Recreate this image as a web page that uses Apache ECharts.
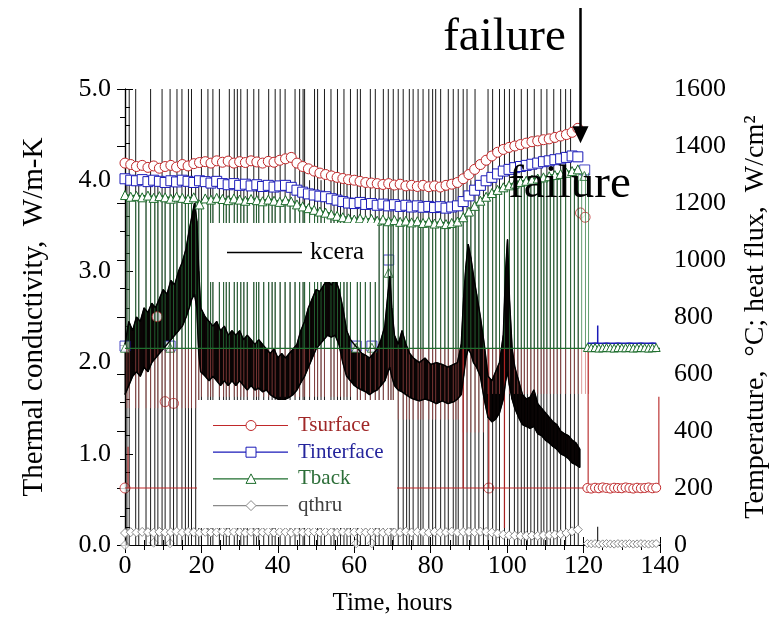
<!DOCTYPE html>
<html><head><meta charset="utf-8">
<script src="https://cdn.jsdelivr.net/npm/echarts@6/dist/echarts.min.js"></script>
<style>html,body{margin:0;padding:0;background:#fff}#c{width:778px;height:621px}</style>
</head><body><div id="c"></div>
<script>
const FONT = 'Liberation Serif';
const timeMin = 0, timeMax = 140, timeStep = 20;
const kMin = 0, kMax = 5, kStep = 1;
const tMin = 0, tMax = 1600, tStep = 200;

const kceraHours = [0,1,2,3,4,5,6,7,8,9,
10,11,12,13,14,15,16,16.8,17.5,18.2,
18.8,19.3,19.8,21,22,23,24,25,26,27,
28,29,30,31,32,33,34,35,36,37,
38,39,40,41,42,43,44,45,46,47,
48,49,50,51,52,53,54,55,56,57,
58,59,60,61,62,63,64,65,66,67,
68,68.8,69.3,69.8,70.5,71.5,72.5,73.5,74.5,75.5,
77,78.5,80,81.5,83,84.5,86,87,88,88.6,
89.2,89.8,90.5,91.2,92,93,94,95,96,97,
98,99,99.6,100.1,100.6,101.3,102,103,104,105,
106,107,108,109,110,111,112,113,114,115,
116,117,118,119];
const kceraLow = [1.65,1.75,1.85,1.9,1.85,1.95,1.9,2.0,2.05,2.1,
2.15,2.2,2.25,2.3,2.35,2.4,2.5,2.6,2.7,2.75,
2.6,2.1,1.9,1.85,1.8,1.85,1.8,1.75,1.8,1.75,
1.8,1.75,1.8,1.75,1.7,1.75,1.7,1.72,1.68,1.7,
1.65,1.62,1.6,1.58,1.6,1.62,1.65,1.7,1.78,1.85,
1.95,2.05,2.15,2.2,2.25,2.3,2.28,2.3,2.2,2.0,
1.85,1.8,1.75,1.72,1.7,1.68,1.65,1.68,1.7,1.75,
1.8,1.9,1.95,1.85,1.75,1.7,1.68,1.65,1.62,1.6,
1.58,1.6,1.58,1.55,1.58,1.55,1.57,1.6,1.65,1.85,
2.05,2.15,2.1,2.0,1.95,1.85,1.6,1.4,1.35,1.38,
1.45,1.6,1.8,1.9,1.75,1.6,1.5,1.4,1.32,1.3,
1.28,1.3,1.22,1.2,1.15,1.12,1.08,1.05,1.0,0.98,
0.95,0.9,0.88,0.85];
const kceraHigh = [2.2,2.45,2.35,2.5,2.45,2.6,2.55,2.65,2.6,2.7,
2.8,2.75,2.9,2.85,3.0,3.1,3.25,3.45,3.6,3.75,
3.55,3.0,2.6,2.5,2.45,2.4,2.45,2.35,2.4,2.3,
2.35,2.3,2.35,2.25,2.3,2.25,2.2,2.25,2.2,2.15,
2.1,2.15,2.05,2.1,2.05,2.1,2.15,2.2,2.35,2.45,
2.6,2.7,2.8,2.78,2.85,2.9,2.85,2.92,2.8,2.6,
2.35,2.25,2.2,2.15,2.1,2.08,2.05,2.1,2.15,2.25,
2.4,2.75,2.95,2.6,2.3,2.2,2.35,2.2,2.1,2.05,
2.0,2.05,1.98,2.0,1.98,1.95,1.98,2.0,2.2,2.7,
3.05,3.3,3.15,2.95,2.75,2.5,2.2,1.85,1.8,1.9,
2.0,2.3,3.0,3.35,2.7,2.15,1.95,1.8,1.65,1.6,
1.62,1.7,1.55,1.5,1.45,1.4,1.35,1.32,1.25,1.22,
1.2,1.15,1.12,1.05];

const fullSpikeHours = [1.1,2.8,6.7,9.7,11.8,13.6,14.9,16.6,17.4,20.0,21.7,23.0,24.7,27.3,28.6,29.4,30.3,32.0,33.7,35.0,37.6,39.3,40.6,41.9,44.5,45.7,46.6,47.0,49.6,50.4,52.2,53.9,55.6,57.3,59.0,60.8,61.6,64.2,65.5,67.6,68.9,70.2,71.5,72.8,74.4,75.4,76.7,78.0,79.5,80.5,81.3,82.6,84.6,85.9,87.2,88.5,89.5,91.6,95.0,96.2,98.0,99.3,100.6,101.9,103.7,105.3,107.1,108.9,110.4,112.2,114.0,115.3,116.6];
const baseSpikeHours = [0.5,3.6,5.5,7.8,8.6,10.5,12.7,15.8,18.5,19.3,22.4,25.8,26.5,31.1,34.4,36.3,38.5,43.2,48.3,51.3,54.7,56.4,58.1,62.9,66.5,69.6,73.7,77.4,83.7,86.6,90.5,92.6,93.8,97.1,102.8,104.5,106.2,108.0,109.6,111.3,113.1,117.6,118.6];
const failureSpikeHours = [119.5,120.5,121.3];
const fullSpikeTop = 5.0, baseSpikeTop = 4.0;
const redFloorRanges = [[0,20,480],[20,60,520],[60,88,440],[88,95,395],[95,122,530]];
const dropCeiling = 690;
const redDeepSegments = [[0.8,200,345],[88.5,200,690],[95.2,200,690],[99.3,60,690],[121.2,200,690],[139.7,200,520]];
const blueSpikes = [[123.7,709,770]];
const blackSmallSpikes = [[123.7,0,0.2]];

const markStep = 1.5;
const tsurface = [1340,1335,1328,1332,1325,1330,1322,1328,1332,1326,
1335,1330,1338,1342,1345,1340,1348,1343,1347,1340,
1345,1342,1348,1344,1340,1346,1343,1350,1355,1360,
1340,1328,1320,1312,1305,1300,1295,1290,1286,1282,
1280,1276,1272,1270,1268,1265,1268,1263,1266,1260,
1262,1258,1262,1257,1260,1256,1262,1266,1272,1285,
1300,1318,1335,1350,1365,1378,1388,1395,1400,1405,
1410,1415,1418,1422,1425,1430,1435,1440,1448,1462];
const tinterface = [1285,1280,1278,1282,1275,1280,1276,1272,1278,1274,
1280,1276,1272,1278,1275,1270,1276,1268,1264,1268,
1262,1266,1260,1264,1258,1262,1256,1260,1262,1255,
1245,1238,1232,1228,1224,1222,1215,1210,1205,1200,
1198,1202,1195,1198,1192,1196,1190,1194,1188,1192,
1186,1190,1185,1188,1184,1187,1182,1186,1190,1205,
1225,1245,1262,1278,1290,1302,1312,1318,1324,1328,
1332,1336,1340,1345,1348,1352,1355,1360,1365,1362];
const tback = [1228,1222,1225,1220,1226,1218,1224,1220,1215,1222,
1218,1214,1220,1195,1216,1212,1218,1214,1210,1216,
1212,1208,1214,1210,1206,1212,1208,1204,1210,1205,
1195,1188,1182,1176,1170,1166,1160,1155,1150,1146,
1142,1146,1140,1144,1138,1142,1136,1140,1134,1138,
1132,1136,1130,1134,1128,1132,1126,1130,1135,1150,
1170,1190,1208,1222,1235,1246,1255,1262,1268,1274,
1278,1282,1286,1290,1294,1298,1302,1306,1312,1318];
const qthru = [42,45,44,46,45,43,46,44,45,47,
44,46,45,43,46,44,45,47,44,46,
45,43,46,44,45,47,44,46,45,43,
46,44,45,47,44,46,45,43,46,44,
45,47,44,46,45,43,46,44,45,47,
44,46,45,43,46,44,45,47,44,46,
46,45,47,46,44,40,36,34,33,32,
32,33,32,34,35,36,38,42,48,54];
const surfaceOutliers = [[0,200],[8.4,801],[10.5,503],[12.7,497],[95.2,200],[119.2,1165],[120.4,1150]];
const interfaceOutliers = [[0,698],[11.8,698],[60.5,698],[64.6,698],[69,1000],[120.3,1316]];
const backOutliers = [[0,692],[11.8,692],[60.5,692],[64.6,692],[69,955],[120.2,1295]];
const qthruOutliers = [[0,0],[7.5,8],[11.8,6],[60.5,6],[64.6,6]];
const postHours = [121,122,123,124,125,126,127,128,129,130,131,132,133,134,135,136,137,138,139];
const surfacePost = [200,198,201,199,202,200,198,201,200,199,202,200,198,201,199,200,202,199,201];
const interfacePost = [708,708,709,708,708,709,708,708,709,708,708,709,708,708,709,708,708,709,708];
const backPost = [693,692,693,691,692,693,692,691,693,692,692,693,691,692,693,692,691,692,693];
const qthruPost = [5,4,5,3,4,5,4,3,5,4,4,5,3,4,5,4,3,4,5];
const surfaceDropLevel = 200, backDropLevel = 690;
const failureHour = 119, failureTipTemp = 1410;
const legendNames = ['Tsurface', 'Tinterface', 'Tback', 'qthru'];

const RED = '#c0282a', BLUE = '#1a1ab8', GREEN = '#1f6e2e', GRAY = '#8a8a8a';
const legendTextColors = ['#a02828', '#25259c', '#2c6e38', '#404040'];
const legendLineColors = [RED, BLUE, GREEN, GRAY];

const markHours = tsurface.map((_, i) => i * markStep);
const pairs = (xs, ys) => xs.map((x, i) => [x, ys[i]]);
function nearestBack(t) {
  const i = Math.max(0, Math.min(tback.length - 1, Math.round(t / markStep)));
  return tback[i];
}
function redFloor(t) {
  for (const r of redFloorRanges) if (t >= r[0] && t < r[1]) return r[2];
  return 520;
}
function vlines(name, color, width, opacity, yAxisIndex, segs) {
  const data = [];
  segs.forEach(s => { data.push([s[0], s[1]], [s[0], s[2]], ['-', '-']); });
  return { type: 'line', name, yAxisIndex, data, symbol: 'none', silent: true, connectNulls: false,
    lineStyle: { color, width, opacity } };
}
const allSpikes = fullSpikeHours.concat(baseSpikeHours).sort((a, b) => a - b);
const lineHours = allSpikes.concat(failureSpikeHours);
const fullSpikeData = fullSpikeHours.map(t => [t, 0, fullSpikeTop]);
const baseSpikeData = baseSpikeHours.map(t => [t, 0, baseSpikeTop]);
const redData = lineHours.map(t => [t, redFloor(t), dropCeiling]);
const greenData = lineHours.map(t => [t, dropCeiling, nearestBack(t) - 12]);
const bandData = kceraHours.slice(0, -1).map((t, i) =>
  [t, kceraLow[i], kceraHigh[i], kceraHours[i + 1], kceraLow[i + 1], kceraHigh[i + 1]]);
const outline = pairs(kceraHours, kceraHigh).concat(pairs(kceraHours, kceraLow).reverse());

function band(name, opacity) {
  return {
    type: 'custom', name, yAxisIndex: 0, silent: true, data: bandData,
    encode: { x: [0, 3], y: [1, 2, 4, 5] },
    renderItem: (p, api) => {
      const pts = [api.coord([api.value(0), api.value(1)]), api.coord([api.value(0), api.value(2)]),
                   api.coord([api.value(3), api.value(5)]), api.coord([api.value(3), api.value(4)])];
      return { type: 'polygon', shape: { points: pts }, style: { fill: '#0a0505', stroke: '#0a0505', lineWidth: 0.6, opacity } };
    }
  };
}
function marker(name, data, symbol, size, color, lw, extra) {
  return Object.assign({
    type: 'line', name, yAxisIndex: 1, data, symbol, symbolSize: size,
    showSymbol: true, showAllSymbol: true, silent: true,
    itemStyle: { color: '#fff', borderColor: color, borderWidth: 1 },
    lineStyle: { color, width: lw }
  }, extra || {});
}
function scatter(name, data, symbol, size, color) {
  return { type: 'scatter', name, yAxisIndex: 1, data, symbol, symbolSize: size, silent: true,
    itemStyle: { color: '#fff', borderColor: color, borderWidth: 1 } };
}

const axisFont = { fontFamily: FONT, fontSize: 26, color: '#000' };
const tickCommon = { inside: true, length: 8, lineStyle: { color: '#000' } };
const minorCommon = { show: true, length: 5, lineStyle: { color: '#000' } };

const series = [
  band('kceraBand', 1),
  vlines('spikesFull', '#000', 1, 0.9, 0, fullSpikeData),
  vlines('spikesBase', '#000', 1, 0.9, 0, baseSpikeData),
  vlines('redDrops', '#c85a58', 1, 0.6, 1, redData),
  vlines('greenDrops', '#2f7d40', 1, 0.75, 1, greenData),
  vlines('redDeep', '#b52020', 1.2, 0.9, 1, redDeepSegments),
  band('kceraBandTop', 0.7),
  { type: 'line', name: 'kcera', yAxisIndex: 0, data: outline, symbol: 'none', silent: true,
    itemStyle: { color: '#000' }, lineStyle: { color: '#000', width: 1.5 } },
  { type: 'line', name: 'backBase', yAxisIndex: 1, symbol: 'none', silent: true,
    data: [[timeMin, backDropLevel], [timeMax, backDropLevel]], lineStyle: { color: GREEN, width: 1.2 } },
  { type: 'line', name: 'surfBase', yAxisIndex: 1, symbol: 'none', silent: true,
    data: [[timeMin, surfaceDropLevel], [timeMax, surfaceDropLevel]], lineStyle: { color: RED, width: 1.2 } },
  vlines('blueSpike', BLUE, 1.5, 1, 1, blueSpikes),
  vlines('blackSmall', '#000', 1, 1, 0, blackSmallSpikes),
  marker('Tsurface', pairs(markHours, tsurface), 'circle', 10, RED, 3, { id: 'tsurface' }),
  marker('Tinterface', pairs(markHours, tinterface), 'rect', 10, BLUE, 3.5),
  marker('Tback', pairs(markHours, tback), 'triangle', 9, GREEN, 3),
  marker('qthru', pairs(markHours, qthru), 'diamond', 9, GRAY, 1),
  scatter('surfOut', surfaceOutliers, 'circle', 10, RED),
  scatter('intOut', interfaceOutliers, 'rect', 10, BLUE),
  scatter('backOut', backOutliers, 'triangle', 9, GREEN),
  scatter('qOut', qthruOutliers, 'diamond', 9, GRAY),
  marker('surfPost', pairs(postHours, surfacePost), 'circle', 9, RED, 1.5),
  { type: 'line', name: 'intPost', yAxisIndex: 1, data: pairs(postHours, interfacePost), symbol: 'none',
    silent: true, lineStyle: { color: BLUE, width: 1.5 } },
  marker('backPost', pairs(postHours, backPost), 'triangle', 8, GREEN, 1),
  marker('qPost', pairs(postHours, qthruPost), 'diamond', 8, GRAY, 1)
];

const option = {
  animation: false,
  backgroundColor: '#fff',
  grid: { left: 125, right: 109, top: 89, bottom: 76, containLabel: false },
  xAxis: [
    { type: 'value', min: timeMin, max: timeMax, interval: timeStep, position: 'bottom',
      axisLine: { lineStyle: { color: '#000', width: 1.2 } }, axisTick: tickCommon,
      minorTick: Object.assign({ splitNumber: 4 }, minorCommon), splitLine: { show: false },
      axisLabel: Object.assign({ margin: 8 }, axisFont),
      name: 'Time, hours', nameLocation: 'middle', nameGap: 46,
      nameTextStyle: { fontFamily: FONT, fontSize: 25, color: '#000' } },
    { type: 'value', min: timeMin, max: timeMax, interval: timeStep, position: 'top',
      axisLine: { lineStyle: { color: '#000', width: 1.2 } }, axisTick: tickCommon,
      minorTick: Object.assign({ splitNumber: 4 }, minorCommon), splitLine: { show: false },
      axisLabel: { show: false } }
  ],
  yAxis: [
    { type: 'value', min: kMin, max: kMax, interval: kStep, position: 'left',
      axisLine: { show: true, lineStyle: { color: '#000', width: 1.2 } }, axisTick: tickCommon,
      minorTick: Object.assign({ splitNumber: 5 }, minorCommon), splitLine: { show: false },
      axisLabel: Object.assign({ margin: 14, formatter: v => v.toFixed(1) }, axisFont),
      name: 'Thermal conductivity,  W/m-K', nameLocation: 'middle', nameGap: 76, nameRotate: 90,
      nameTextStyle: { fontFamily: FONT, fontSize: 29, color: '#000' } },
    { type: 'value', min: tMin, max: tMax, interval: tStep, position: 'right',
      axisLine: { show: true, lineStyle: { color: '#000', width: 1.2 } }, axisTick: tickCommon,
      minorTick: Object.assign({ splitNumber: 2 }, minorCommon), splitLine: { show: false },
      axisLabel: Object.assign({ margin: 14, formatter: v => String(v) }, axisFont),
      name: 'Temperature,  °C; heat flux,  W/cm²', nameLocation: 'middle', nameGap: 82, nameRotate: 90,
      nameTextStyle: { fontFamily: FONT, fontSize: 28, color: '#000' } }
  ],
  series
};

const chart = echarts.init(document.getElementById('c'));
chart.setOption(option);

function symbolShape(kind, cx, cy, color) {
  const st = { fill: '#fff', stroke: color, lineWidth: 1 };
  if (kind === 'circle') return { type: 'circle', z: 21, shape: { cx, cy, r: 5 }, style: st };
  if (kind === 'rect') return { type: 'rect', z: 21, shape: { x: cx - 5, y: cy - 5, width: 10, height: 10 }, style: st };
  if (kind === 'triangle') return { type: 'polygon', z: 21, shape: { points: [[cx, cy - 5], [cx + 5, cy + 4.5], [cx - 5, cy + 4.5]] }, style: st };
  return { type: 'polygon', z: 21, shape: { points: [[cx, cy - 5], [cx + 5, cy], [cx, cy + 5], [cx - 5, cy]] }, style: st };
}
const legendKinds = ['circle', 'rect', 'triangle', 'diamond'];
const g = [
  { type: 'rect', z: 20, shape: { x: 210, y: 223, width: 167, height: 59 }, style: { fill: '#fff' } },
  { type: 'line', z: 21, shape: { x1: 227, y1: 252.5, x2: 302, y2: 252.5 }, style: { stroke: '#000', lineWidth: 1.5 } },
  { type: 'text', z: 21, x: 310, y: 252, style: { text: 'kcera', font: '25px "Liberation Serif"', fill: '#000', textVerticalAlign: 'middle' } },
  { type: 'rect', z: 20, shape: { x: 197, y: 400, width: 200, height: 128 }, style: { fill: '#fff' } }
];
legendNames.forEach((name, i) => {
  const cy = 425.5 + i * 26.7;
  g.push({ type: 'line', z: 21, shape: { x1: 213, y1: cy, x2: 288, y2: cy }, style: { stroke: legendLineColors[i], lineWidth: 1.2 } });
  g.push(symbolShape(legendKinds[i], 251, cy, legendLineColors[i]));
  g.push({ type: 'text', z: 21, x: 298, y: cy, style: { text: name, font: '21px "Liberation Serif"', fill: legendTextColors[i], textVerticalAlign: 'middle' } });
});
const tip = chart.convertToPixel({ seriesId: 'tsurface' }, [failureHour, failureTipTemp]);
const ax = Math.round(tip[0]) + 0.5;
g.push(
  { type: 'line', z: 100, shape: { x1: ax, y1: 8, x2: ax, y2: tip[1] - 12 }, style: { stroke: '#000', lineWidth: 2.5 } },
  { type: 'polygon', z: 100, shape: { points: [[ax - 8, tip[1] - 17], [ax + 8, tip[1] - 17], [ax, tip[1]]] }, style: { fill: '#000' } },
  { type: 'text', z: 100, x: ax - 76, y: 38, style: { text: 'failure', font: '47px "Liberation Serif"', fill: '#000', textAlign: 'center', textVerticalAlign: 'middle' } },
  { type: 'text', z: 100, x: ax - 11, y: 185, style: { text: 'failure', font: '47px "Liberation Serif"', fill: '#000', textAlign: 'center', textVerticalAlign: 'middle' } }
);
chart.setOption({ graphic: g });
</script></body></html>
